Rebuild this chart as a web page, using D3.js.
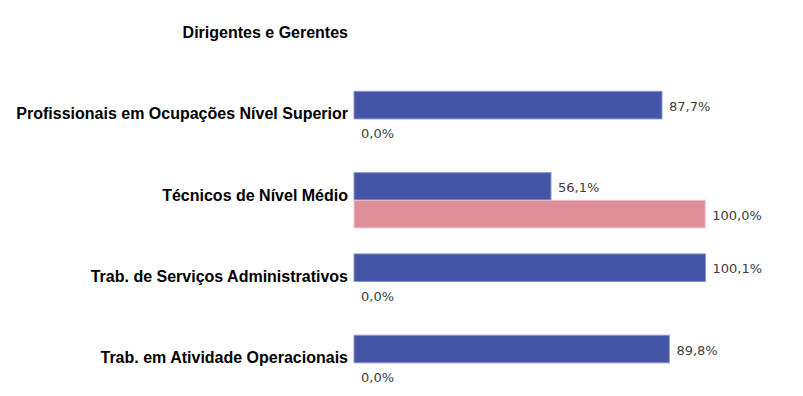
<!DOCTYPE html>
<html lang="pt">
  <head>
    <meta charset="utf-8">
    <style>
      body { margin: 0; background: #fff; }
      .cat { font-family: "Liberation Sans", Arial, sans-serif; font-weight: bold; font-size: 16px; fill: #000; }
      .val { font-family: "DejaVu Sans", Verdana, sans-serif; font-size: 13px; fill: #404040; }
    </style>
  </head>
  <body>
  <script src="https://d3js.org/d3.v7.min.js"></script>
  <script>
  var categories = [
    "Dirigentes e Gerentes",
    "Profissionais em Ocupações Nível Superior",
    "Técnicos de Nível Médio",
    "Trab. de Serviços Administrativos",
    "Trab. em Atividade Operacionais"
  ];
  // null = no bar / no label in the reference
  var seriesA = [null, 87.7, 56.1, 100.1, 89.8];
  var seriesB = [null, 0.0, 100.0, 0.0, 0.0];
  var seriesNames = ["A", "B"];
  var colors = ["#4455A8", "#E08E9A"];
  var strokes = ["#8E98CF", "#F0C4CA"];

  var width = 803, height = 396;
  var x0 = 354;

  var svg = d3.select("body").append("svg")
    .attr("width", width)
    .attr("height", height);

  var x = d3.scaleLinear().domain([0, 100]).range([x0, x0 + 351.2]);

  var y = d3.scaleBand()
    .domain(categories)
    .range([-3, 403.5])
    .paddingInner(0.32)
    .paddingOuter(0.16);

  var ySub = d3.scaleBand()
    .domain(seriesNames)
    .range([0, y.bandwidth()]);

  var fmt = function(v) { return v.toFixed(1).replace(".", ",") + "%"; };

  // category labels
  svg.selectAll("text.cat")
    .data(categories)
    .enter().append("text")
    .attr("class", "cat")
    .attr("x", 348)
    .attr("y", function(d) { return y(d) + y.bandwidth() / 2 + 0.5; })
    .attr("text-anchor", "end")
    .text(function(d) { return d; });

  [seriesA, seriesB].forEach(function(series, si) {
    var rows = categories.map(function(c, i) { return { cat: c, v: series[i] }; })
      .filter(function(d) { return d.v !== null; });

    var g = svg.append("g");

    g.selectAll("rect")
      .data(rows)
      .enter().append("rect")
      .attr("x", x(0))
      .attr("y", function(d) { return y(d.cat) + ySub(seriesNames[si]); })
      .attr("width", function(d) { return Math.max(x(d.v) - x(0), 0); })
      .attr("height", ySub.bandwidth())
      .attr("fill", colors[si])
      .attr("stroke", strokes[si])
      .attr("stroke-width", 1);

    g.selectAll("text")
      .data(rows)
      .enter().append("text")
      .attr("class", "val")
      .attr("x", function(d) { return x(d.v) + 7; })
      .attr("y", function(d) { return y(d.cat) + ySub(seriesNames[si]) + ySub.bandwidth() / 2 + 5.5; })
      .text(function(d) { return fmt(d.v); });
  });
  </script>
  </body>
</html>
